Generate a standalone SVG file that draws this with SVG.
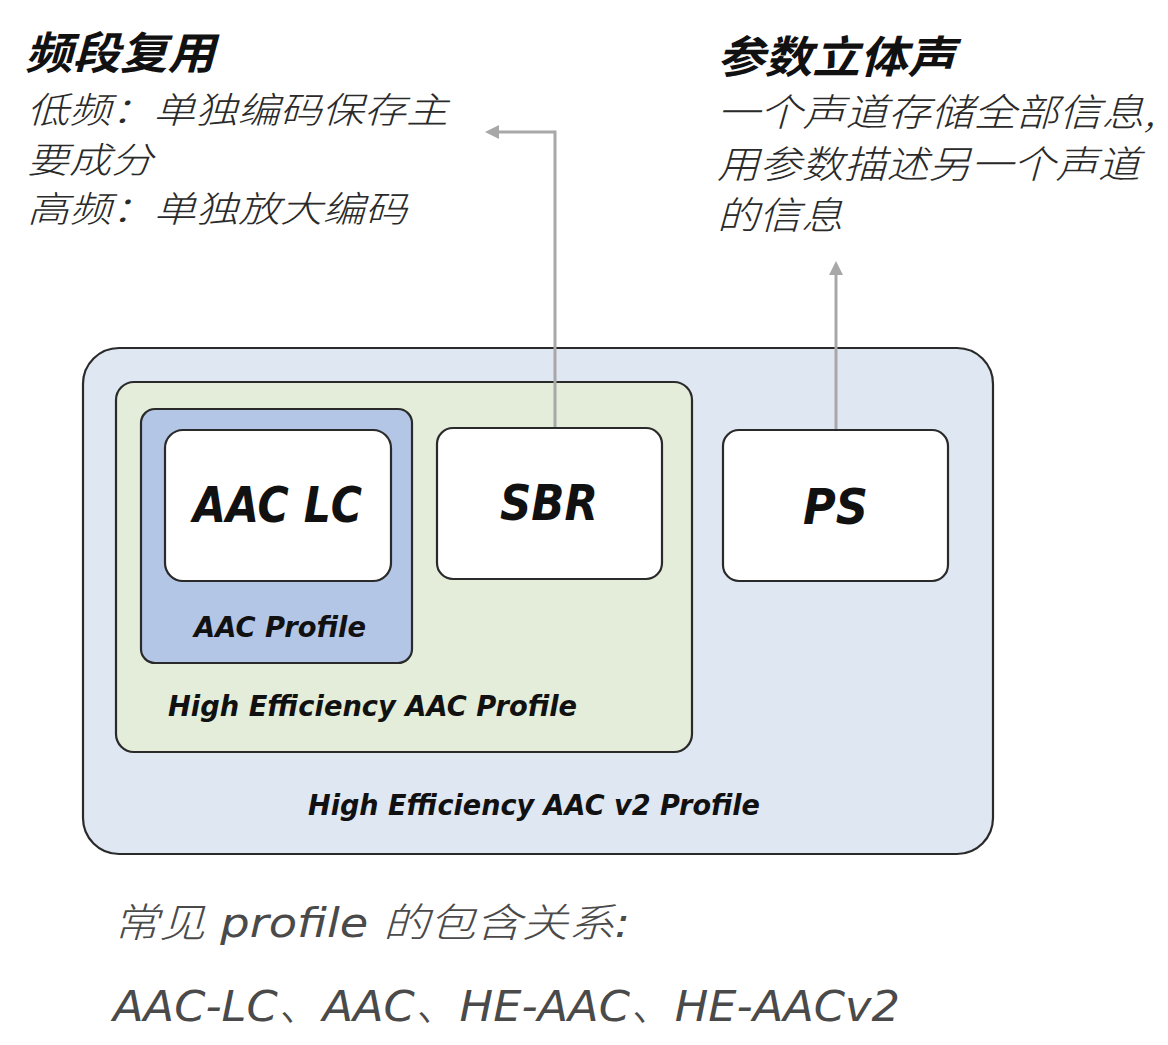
<svg xmlns="http://www.w3.org/2000/svg" width="1168" height="1045" viewBox="0 0 1168 1045">
<style>
.box{stroke:#2a2a2a;stroke-width:2.2}
.lbl{font-family:"DejaVu Sans","Liberation Sans",sans-serif;font-style:italic;font-weight:bold;fill:#111}
.cjk{font-family:"Noto Sans CJK SC","Noto Sans",sans-serif;font-style:italic;font-weight:300;fill:#2a2a2a}
.ttl{font-family:"Noto Sans CJK SC","Noto Sans",sans-serif;font-style:italic;font-weight:bold;fill:#111}
.note{font-family:"DejaVu Sans","Noto Sans CJK SC",sans-serif;font-style:italic;font-weight:200;fill:#4a4a4a}
.conn{fill:none;stroke:#a8a8a8;stroke-width:3}
</style>
<defs>
<marker id="ah" markerWidth="14" markerHeight="14" refX="10" refY="7" orient="auto" markerUnits="userSpaceOnUse" viewBox="0 0 14 14">
<path d="M0,0 L14,7 L0,14 Z" fill="#a8a8a8"/>
</marker>
</defs>
<rect width="1168" height="1045" fill="#ffffff"/>

<g id="title-left">
<text class="ttl" x="25" y="69" font-size="44" textLength="190" lengthAdjust="spacingAndGlyphs">频段复用</text>
<text class="cjk" x="27" y="123" font-size="36" textLength="421" lengthAdjust="spacingAndGlyphs">低频：单独编码保存主</text>
<text class="cjk" x="27" y="173" font-size="36" textLength="126" lengthAdjust="spacingAndGlyphs">要成分</text>
<text class="cjk" x="27" y="222" font-size="36" textLength="380" lengthAdjust="spacingAndGlyphs">高频：单独放大编码</text>
</g>
<g id="title-right">
<text class="ttl" x="717" y="73" font-size="44" textLength="238" lengthAdjust="spacingAndGlyphs">参数立体声</text>
<text class="cjk" x="717" y="126" font-size="38" textLength="438" lengthAdjust="spacingAndGlyphs">一个声道存储全部信息,</text>
<text class="cjk" x="717" y="178" font-size="38" textLength="423" lengthAdjust="spacingAndGlyphs">用参数描述另一个声道</text>
<text class="cjk" x="717" y="229" font-size="38" textLength="126" lengthAdjust="spacingAndGlyphs">的信息</text>
</g>

<g id="he-aac-v2">
<rect class="box" x="83" y="348" width="910" height="506" rx="36" fill="#dfe7f3"/>
<text class="lbl" x="308" y="815" font-size="29" textLength="452" lengthAdjust="spacingAndGlyphs">High Efficiency AAC v2 Profile</text>
</g>
<g id="he-aac">
<rect class="box" x="116" y="382" width="576" height="370" rx="18" fill="#e3edda"/>
<text class="lbl" x="168" y="716" font-size="29" textLength="409" lengthAdjust="spacingAndGlyphs">High Efficiency AAC Profile</text>
</g>
<g id="aac-profile">
<rect class="box" x="141" y="409" width="271" height="254" rx="14" fill="#b4c6e6"/>
<text class="lbl" x="194" y="637" font-size="29" textLength="172" lengthAdjust="spacingAndGlyphs">AAC Profile</text>
</g>
<g id="aac-lc">
<rect class="box" x="165" y="430" width="226" height="151" rx="18" fill="#ffffff"/>
<text class="lbl" x="193" y="522" font-size="50" textLength="169" lengthAdjust="spacingAndGlyphs">AAC LC</text>
</g>
<g id="sbr">
<rect class="box" x="437" y="428" width="225" height="151" rx="16" fill="#ffffff"/>
<text class="lbl" x="500" y="520" font-size="50" textLength="98" lengthAdjust="spacingAndGlyphs">SBR</text>
</g>
<g id="ps">
<rect class="box" x="723" y="430" width="225" height="151" rx="16" fill="#ffffff"/>
<text class="lbl" x="803" y="524" font-size="50" textLength="65" lengthAdjust="spacingAndGlyphs">PS</text>
</g>

<g id="connectors">
<path class="conn" d="M555,427 L555,132 L489,132" marker-end="url(#ah)"/>
<path class="conn" d="M836,429 L836,265" marker-end="url(#ah)"/>
</g>

<g id="footer">
<text class="note" x="113" y="937" font-size="40" textLength="517" lengthAdjust="spacingAndGlyphs">常见 profile 的包含关系:</text>
<text class="note" x="113" y="1021" font-size="42" textLength="787" lengthAdjust="spacingAndGlyphs">AAC-LC、AAC、HE-AAC、HE-AACv2</text>
</g>
</svg>
